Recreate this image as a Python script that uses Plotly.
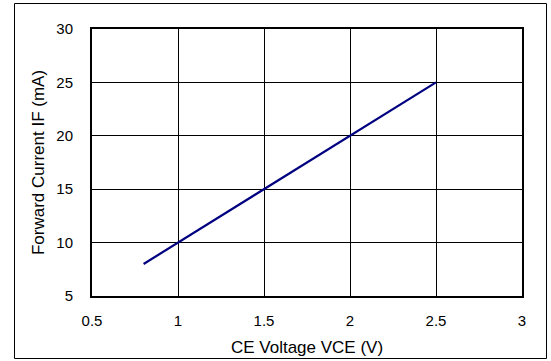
import plotly.graph_objects as go

vce = [0.8, 1.0, 1.5, 2.0, 2.5]
i_f = [8, 10, 15, 20, 25]
x_ticks = [0.5, 1, 1.5, 2, 2.5, 3]
x_tick_labels = ["0.5", "1", "1.5", "2", "2.5", "3"]
y_ticks = [5, 10, 15, 20, 25, 30]

fig = go.Figure()
fig.add_trace(go.Scatter(x=vce, y=i_f, mode="lines",
                         line=dict(color="#000080", width=2.2), showlegend=False))

L, R, T, B = 92, 29, 29, 65
W, H = 551, 361
pw, ph = W - L - R, H - T - B

fig.update_layout(
    width=W, height=H,
    margin=dict(l=L, r=R, t=T, b=B),
    paper_bgcolor="white", plot_bgcolor="white",
    font=dict(family="Liberation Sans, Arial, sans-serif", size=15, color="black"),
    xaxis=dict(range=[0.5, 3], tickvals=x_ticks, ticktext=x_tick_labels,
               showgrid=True, gridcolor="black", gridwidth=1,
               showline=True, linecolor="black", linewidth=2, mirror=True,
               ticks="", ticklabelstandoff=10, zeroline=False, automargin=False,
               tickfont=dict(size=15),
               title=dict(text="CE Voltage VCE (V)", standoff=13, font=dict(size=17))),
    yaxis=dict(range=[5, 30], tickvals=y_ticks,
               showgrid=True, gridcolor="black", gridwidth=1,
               showline=True, linecolor="black", linewidth=2, mirror=True,
               ticks="", ticklabelstandoff=14, zeroline=False, automargin=False,
               tickfont=dict(size=15),
               title=dict(text="Forward Current IF (mA)", standoff=7, font=dict(size=17))),
)

def px(xp):
    return (xp - L) / pw

def py(yp):
    return (H - B - yp) / ph

bx0, bx1, by0, by1 = 14.5, 546.5, 3.5, 358.5
for (a, b, c, d) in [(bx0, by0, bx1, by0), (bx0, by1, bx1, by1),
                     (bx0, by0, bx0, by1), (bx1, by0, bx1, by1)]:
    fig.add_shape(type="line", xref="paper", yref="paper",
                  x0=px(a), y0=py(b), x1=px(c), y1=py(d),
                  line=dict(color="black", width=1), layer="above")

fig.write_html("out.html")
